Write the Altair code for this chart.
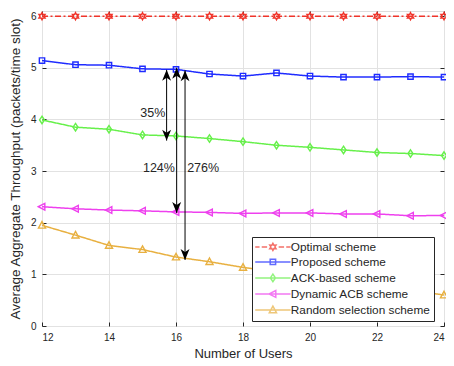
import math
import altair as alt
import pandas as pd

# ---------------- data ----------------
users = [12, 13, 14, 15, 16, 17, 18, 19, 20, 21, 22, 23, 24]
optimal = [6.0, 6.0, 6.0, 6.0, 6.0, 6.0, 6.0, 6.0, 6.0, 6.0, 6.0, 6.0, 6.0]
proposed = [5.14, 5.06, 5.05, 4.98, 4.97, 4.88, 4.84, 4.90, 4.84, 4.82, 4.82, 4.83, 4.82]
ack_based = [3.99, 3.85, 3.81, 3.70, 3.68, 3.63, 3.57, 3.50, 3.46, 3.41, 3.36, 3.34, 3.30]
dynamic_acb = [2.31, 2.27, 2.245, 2.23, 2.21, 2.20, 2.18, 2.19, 2.19, 2.17, 2.17, 2.135, 2.14]
random_sel = [1.95, 1.76, 1.56, 1.48, 1.335, 1.245, 1.135, 1.05, 0.96, 0.87, 0.78, 0.69, 0.60]

names = ["Optimal scheme", "Proposed scheme", "ACK-based scheme",
         "Dynamic ACB scheme", "Random selection scheme"]
colors = ["#f0342a", "#1f2cff", "#66f04a", "#ee40ee", "#e8b040"]

# annotation arrows: x position, top tip, bottom tip
arrow_x = [15.72, 16.02, 16.27]
arrow_top = [4.96, 5.00, 4.95]
arrow_bottom = [3.59, 2.19, 1.28]
# annotation texts
ann_text = ["35%", "124%", "276%"]
ann_x = [15.31, 15.49, 16.81]
ann_y = [4.13, 3.06, 3.06]

x_ticks = [12, 14, 16, 18, 20, 22, 24]
y_ticks = [0, 1, 2, 3, 4, 5, 6]

FONT = "Liberation Sans"

# ---------------- tables ----------------
series_vals = [optimal, proposed, ack_based, dynamic_acb, random_sel]
rows = []
for n, vals in zip(names, series_vals):
    for u, v in zip(users, vals):
        rows.append({"series": n, "users": u, "value": v})
df = pd.DataFrame(rows)

arrows_df = pd.DataFrame({"x": arrow_x, "top": arrow_top, "bottom": arrow_bottom})
heads_rows = []
for xx, t, b in zip(arrow_x, arrow_top, arrow_bottom):
    heads_rows.append({"x": xx, "y": t, "dir": "up"})
    heads_rows.append({"x": xx, "y": b, "dir": "down"})
heads_df = pd.DataFrame(heads_rows)
text_df = pd.DataFrame({"x": ann_x, "y": ann_y, "label": ann_text})


def star(n=6, ro=1.0, ri=0.55):
    pts = []
    for i in range(2 * n):
        r = ro if i % 2 == 0 else ri
        a = -math.pi / 2 + i * math.pi / n
        pts.append(f"{r*math.cos(a):.3f},{r*math.sin(a):.3f}")
    return "M" + " L".join(pts) + " Z"


marker_paths = [
    star(),
    "M-0.75,-0.75 L0.75,-0.75 L0.75,0.75 L-0.75,0.75 Z",
    "M0,-1.05 L0.7,0 L0,1.05 L-0.7,0 Z",
    "M-1.05,0 L0.8,-0.95 L0.8,0.95 Z",
    "M0,-1.05 L1,0.8 L-1,0.8 Z",
]
solid_line = "M-4.9,0 L4.9,0 "
dash_line = "M-4.9,0 L-3.7,0 M-3.1,0 L-1.6,0 M1.6,0 L3.1,0 M3.7,0 L4.9,0 "
legend_paths = [dash_line + marker_paths[0]] + [solid_line + p for p in marker_paths[1:]]
dashes = [[6, 2.5, 2, 2.5], [1, 0], [1, 0], [1, 0], [1, 0]]

xscale = alt.Scale(domain=[12, 24], nice=False, zero=False)
yscale = alt.Scale(domain=[0, 6.1], nice=False, zero=False)
cscale = alt.Scale(domain=names, range=colors)

base = alt.Chart(df)

axis_x = alt.Axis(values=x_ticks, title="Number of Users", domain=False, offset=-4,
                  tickSize=4, tickColor="#262626", labelPadding=6, grid=True,
                  gridColor="#e2e2e2", labelFontSize=10, labelFont=FONT,
                  labelColor="#262626", titleFont=FONT, titleFontSize=13,
                  titleFontWeight="normal", titleColor="#262626", titlePadding=5)
axis_y = alt.Axis(values=y_ticks, title="Average Aggregate Throughput (packets/time slot)",
                  domain=False, offset=-4, tickSize=4, tickColor="#262626",
                  labelPadding=6, grid=True, gridColor="#e2e2e2", labelFontSize=10,
                  labelFont=FONT, labelColor="#262626", titleFont=FONT, titleFontSize=13.5,
                  titleFontWeight="normal", titleColor="#262626", titlePadding=8)

lines = base.mark_line(strokeWidth=1.5).encode(
    x=alt.X("users:Q", scale=xscale, axis=axis_x),
    y=alt.Y("value:Q", scale=yscale, axis=axis_y),
    color=alt.Color("series:N", scale=cscale, legend=None),
    strokeDash=alt.StrokeDash("series:N", scale=alt.Scale(domain=names, range=dashes), legend=None),
    detail="series:N",
)

points = base.mark_point(filled=False, strokeWidth=1.4, size=50, opacity=1).encode(
    x=alt.X("users:Q", scale=xscale, axis=None),
    y=alt.Y("value:Q", scale=yscale, axis=None),
    color=alt.Color("series:N", scale=cscale, legend=None),
    shape=alt.Shape("series:N", scale=alt.Scale(domain=names, range=marker_paths), legend=None),
)

# top / right tick marks (box)
box_axes = base.mark_point(opacity=0).transform_filter("false").encode(
    x=alt.X("users:Q", scale=xscale,
            axis=alt.Axis(orient="top", values=x_ticks, labels=False, title=None, domain=False,
                          offset=-4, tickSize=4, tickColor="#262626", grid=False)),
    y=alt.Y("value:Q", scale=yscale,
            axis=alt.Axis(orient="right", values=y_ticks, labels=False, title=None, domain=False,
                          offset=-4, tickSize=4, tickColor="#262626", grid=False)),
)

legend_spec = dict(
    title=None, orient="none", legendX=210, legendY=226,
    fillColor="white", strokeColor="#262626", padding=4,
    labelFont=FONT, labelFontSize=11.8, labelColor="#262626",
    labelExpr="datum.label + '   '",
    symbolSize=52, symbolStrokeWidth=1.5, symbolOffset=11, labelOffset=12,
    rowPadding=2, symbolFillColor="transparent",
)
legend_layer = base.mark_point(filled=False, size=52, strokeWidth=1.5).transform_filter("false").encode(
    x=alt.X("users:Q", scale=xscale, axis=None),
    y=alt.Y("value:Q", scale=yscale, axis=None),
    color=alt.Color("series:N", scale=alt.Scale(domain=names, range=colors),
                    legend=alt.Legend(**legend_spec)),
    shape=alt.Shape("series:N", scale=alt.Scale(domain=names, range=legend_paths),
                    legend=alt.Legend(**legend_spec)),
)

rules = alt.Chart(arrows_df).mark_rule(color="black", strokeWidth=1).encode(
    x=alt.X("x:Q", scale=xscale, axis=None),
    y=alt.Y("top:Q", scale=yscale, axis=None),
    y2="bottom:Q",
)
heads = alt.Chart(heads_df).mark_point(filled=True, color="black", size=11, opacity=1).encode(
    x=alt.X("x:Q", scale=xscale, axis=None),
    y=alt.Y("y:Q", scale=yscale, axis=None),
    shape=alt.Shape("dir:N", scale=alt.Scale(
        domain=["up", "down"],
        range=["M0,0 L2.7,6.6 L0,4.8 L-2.7,6.6 Z", "M0,0 L2.7,-6.6 L0,-4.8 L-2.7,-6.6 Z"]),
        legend=None),
)
texts = alt.Chart(text_df).mark_text(font=FONT, fontSize=12.5, color="#262626").encode(
    x=alt.X("x:Q", scale=xscale, axis=None),
    y=alt.Y("y:Q", scale=yscale, axis=None),
    text="label:N",
)

chart = alt.layer(lines, points, rules, heads, texts, box_axes, legend_layer).resolve_scale(
    color="independent", shape="independent", strokeDash="independent"
).resolve_axis(x="independent", y="independent").properties(
    width=402, height=315,
    autosize=alt.AutoSizeParams(type="none"),
    padding={"left": 34, "top": 3, "right": 2, "bottom": 40},
).configure_view(stroke="#262626", strokeWidth=1).configure(background="white")

chart.save("out.html", embed_options={"renderer": "svg", "actions": False})
